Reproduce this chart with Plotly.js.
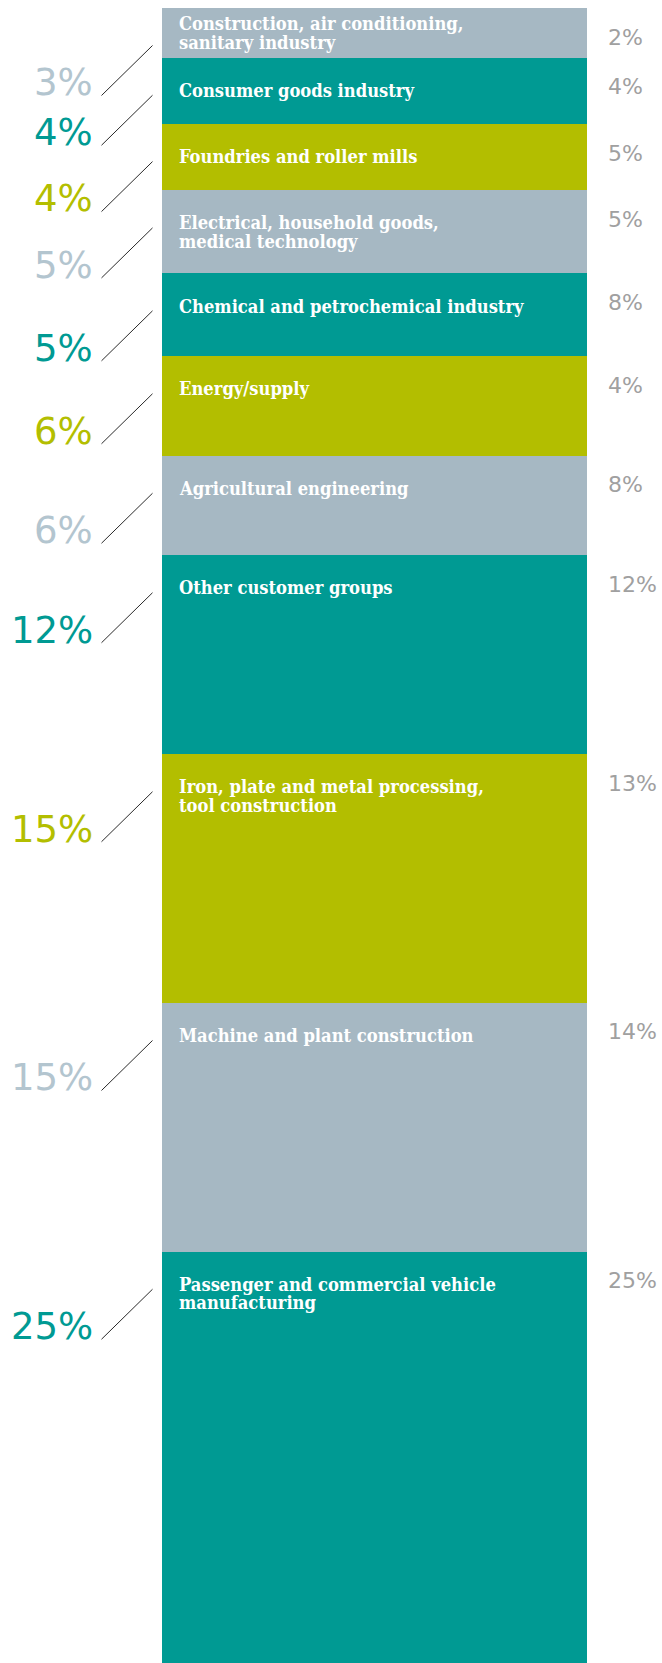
<!DOCTYPE html>
<html>
<head>
<meta charset="utf-8">
<script src="https://cdn.plot.ly/plotly-3.0.1.min.js"></script>
<style>
  html, body { margin: 0; padding: 0; background: #ffffff; }
  #chart { width: 662px; height: 1663px; }
</style>
</head>
<body>
<div id="chart"></div>
<script>
// Customer sectors, top to bottom of the column
const sectors = [
  'Construction, air conditioning,<br>sanitary industry',
  'Consumer goods industry',
  'Foundries and roller mills',
  'Electrical, household goods,<br>medical technology',
  'Chemical and petrochemical industry',
  'Energy/supply',
  'Agricultural engineering',
  'Other customer groups',
  'Iron, plate and metal processing,<br>tool construction',
  'Machine and plant construction',
  'Passenger and commercial vehicle<br>manufacturing'
];

// Share of sales in %, current year (drives segment heights)
const shareCurrent = [3, 4, 4, 5, 5, 6, 6, 12, 15, 15, 25];

// Share of sales in %, previous year
const sharePrevious = [2, 4, 5, 5, 8, 4, 8, 12, 13, 14, 25];

// Colour cycle: grey-blue, teal, olive
const segmentPalette = ['#a6b8c3', '#009a93', '#b3be00'];
const valuePalette   = ['#b3c5cf', '#009a93', '#b3be00'];
const previousColor  = '#a0a0a0';

// Geometry of the column
const W = 662, H = 1663;
const M = { l: 162, r: 75, t: 8, b: 0 };
const Y_MAX = 99.8;
const pxPerUnit = (H - M.t - M.b) / Y_MAX;

// Segment tops (cumulative share above each segment)
const segTop = [];
shareCurrent.reduce((acc, v, i) => { segTop[i] = acc; return acc + v; }, 0);

const traces = sectors.map((name, i) => ({
  type: 'bar',
  x: [0],
  y: [shareCurrent[i]],
  name: name.replace('<br>', ' '),
  marker: { color: segmentPalette[i % 3], line: { width: 0 } },
  hoverinfo: 'skip',
  showlegend: false
}));

const annotations = [];
const shapes = [];

const innerFont = { family: '"DejaVu Serif Condensed", "DejaVu Serif", serif', size: 18.2, weight: 'bold', color: '#ffffff' };
const CAP_H = 13.4, LINE_GAP = 18.3, MAX_CAP_TOP = 26;

sectors.forEach((label, i) => {
  // sector name inside the segment, one annotation per text line
  const lines = label.split('<br>');
  const block = CAP_H + (lines.length - 1) * LINE_GAP;
  const segPx = shareCurrent[i] * pxPerUnit;
  const capTop = Math.min(MAX_CAP_TOP, (segPx - block) / 2);
  lines.forEach((txt, k) => {
    annotations.push({
      text: txt, showarrow: false, borderpad: 0,
      xref: 'paper', x: 0, xanchor: 'left', xshift: 16,
      yref: 'y', y: segTop[i], yanchor: 'middle',
      yshift: -(capTop + CAP_H / 2 + k * LINE_GAP),
      font: innerFont
    });
  });

  // current-year share on the left
  annotations.push({
    text: shareCurrent[i] + '%', showarrow: false, borderpad: 0,
    xref: 'paper', x: 0, xanchor: 'right', xshift: -68,
    yref: 'y', y: segTop[i], yanchor: 'middle', yshift: -74.8,
    font: { family: '"DejaVu Sans", sans-serif', size: 37, color: valuePalette[i % 3] }
  });

  // previous-year share on the right
  annotations.push({
    text: sharePrevious[i] + '%', showarrow: false, borderpad: 0,
    xref: 'paper', x: 1, xanchor: 'left', xshift: 19.5,
    yref: 'y', y: segTop[i], yanchor: 'middle', yshift: -29,
    font: { family: '"DejaVu Sans", sans-serif', size: 22, color: previousColor }
  });

  // diagonal leader from the left value towards the column
  shapes.push({
    type: 'line',
    xref: 'paper', xsizemode: 'pixel', xanchor: 0, x0: -60.5, x1: -9.5,
    yref: 'y', ysizemode: 'pixel', yanchor: segTop[i], y0: -87.5, y1: -37.5,
    line: { color: '#2a2a2a', width: 1 }
  });
});

const layout = {
  width: W, height: H,
  margin: M,
  paper_bgcolor: '#ffffff', plot_bgcolor: '#ffffff',
  barmode: 'stack', bargap: 0,
  xaxis: { range: [-0.5, 0.5], visible: false, fixedrange: true },
  yaxis: { range: [Y_MAX, 0], visible: false, fixedrange: true },
  annotations, shapes,
  showlegend: false
};

Plotly.newPlot('chart', traces, layout, { staticPlot: true, displayModeBar: false });
</script>
</body>
</html>
